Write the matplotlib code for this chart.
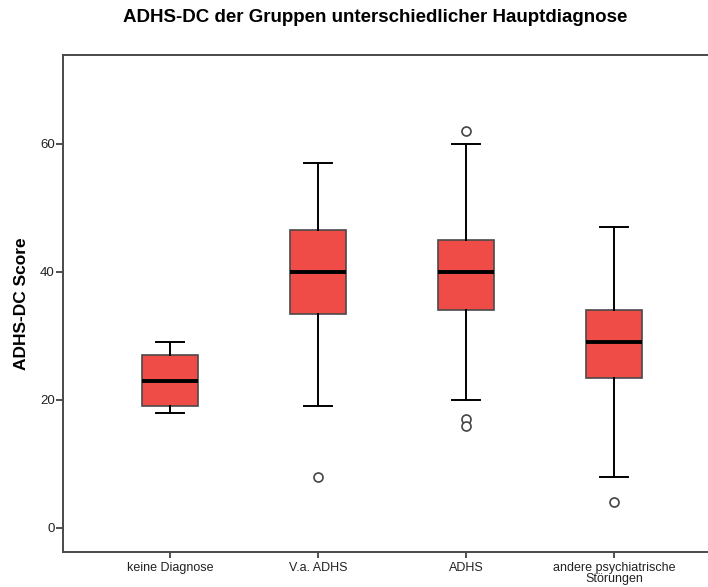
import matplotlib.pyplot as plt

plt.rcParams['font.family'] = ['Liberation Sans', 'DejaVu Sans']

# Kennwerte der Boxplots
gruppen = ['keine Diagnose', 'V.a. ADHS', 'ADHS', 'andere psychiatrische\nStörungen']
whisker_lo = [18, 19, 20, 8]
q1 = [19, 33.5, 34, 23.5]
median = [23, 40, 40, 29]
q3 = [27, 46.5, 45, 34]
whisker_hi = [29, 57, 60, 47]
ausreisser = [[], [8], [62, 17, 16], [4]]

stats = []
for i in range(len(gruppen)):
    stats.append(dict(whislo=whisker_lo[i], q1=q1[i], med=median[i], q3=q3[i],
                      whishi=whisker_hi[i], fliers=ausreisser[i], label=gruppen[i]))

fig = plt.figure(figsize=(7.08, 5.87), dpi=100)
ax = fig.add_axes([63/708, 35/587, 658/708, 497/587])

pos = [1, 2, 3, 4]
ax.bxp(stats, positions=pos, widths=0.385, capwidths=0.19, patch_artist=True,
       boxprops=dict(facecolor='#ef4c47', edgecolor='#4a4a4a', linewidth=1.2),
       medianprops=dict(color='black', linewidth=2.8),
       whiskerprops=dict(color='black', linewidth=1.4),
       capprops=dict(color='black', linewidth=1.4),
       flierprops=dict(marker='o', markerfacecolor='white', markeredgecolor='#444444',
                       markersize=6.5, markeredgewidth=1.2))

ax.set_xlim(0.277, 4.723)
ax.set_ylim(-3.75, 73.9)
ax.set_yticks([0, 20, 40, 60])
ax.set_xticks(pos)
ax.set_xticklabels(gruppen, fontsize=9, color='#222222', linespacing=0.95)
ax.tick_params(axis='y', labelsize=9.5, labelcolor='#222222', length=5, width=1.2, color='#333333', pad=1)
ax.tick_params(axis='x', length=4, width=1.2, color='#333333', pad=3)

for s in ax.spines.values():
    s.set_color('#4a4a4a')
    s.set_linewidth(1.4)

ax.set_ylabel('ADHS-DC Score', fontsize=12.5, fontweight='bold')
ax.yaxis.set_label_coords(-0.052, 0.5)
fig.text(375/708, 1 - 18/587, 'ADHS-DC der Gruppen unterschiedlicher Hauptdiagnose',
         ha='center', va='center', fontsize=13.5, fontweight='bold')

plt.savefig('out.png', dpi=100)
